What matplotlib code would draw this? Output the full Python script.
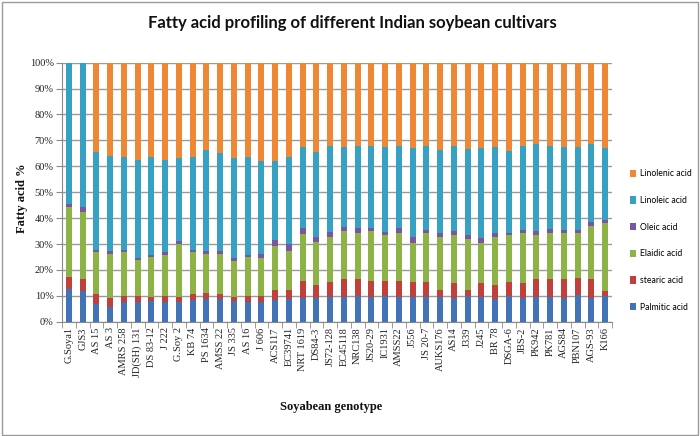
import matplotlib
matplotlib.use("Agg")
import matplotlib.pyplot as plt
from matplotlib.patches import Patch, Rectangle
from matplotlib.ticker import FixedLocator, PercentFormatter
from matplotlib import font_manager
import numpy as np

genotypes = ["G.Soya1", "GJS3", "AS 15", "AS 3", "AMRS 258", "JD(SH) 131", "DS 83-12", "J 222",
             "G.Soy 2", "KB 74", "PS 1634", "AMSS 22", "JS 335", "AS 16", "J 606", "ACS117",
             "EC39741", "NRT 1619", "DS84-3", "JS72-128", "EC45118", "NRC138", "JS20-29", "IC1931",
             "AMSS22", "J556", "JS 20-7", "AUKS176", "AS14", "J339", "J245", "BR 78",
             "DSGA-6", "JBS-2", "PK942", "PK781", "AGS84", "PBN107", "AGS-93", "K166"]

palmitic = [12.8, 11.9, 7.0, 5.8, 7.6, 7.6, 8.0, 7.6, 7.6, 8.5, 8.6, 8.6, 8.0, 7.6, 7.6, 8.4,
            8.6, 9.3, 9.0, 9.4, 9.4, 9.9, 9.7, 9.9, 9.4, 9.4, 9.4, 9.4, 9.0, 9.9, 9.4, 8.9,
            9.9, 9.0, 9.4, 9.4, 9.0, 10.3, 9.0, 9.9]
stearic = [4.6, 4.5, 3.6, 3.2, 2.5, 2.5, 1.5, 2.5, 1.9, 2.1, 2.6, 2.0, 1.5, 2.5, 2.5, 3.9,
           3.7, 6.4, 5.2, 5.8, 6.9, 6.4, 6.1, 5.9, 6.4, 5.8, 5.8, 2.8, 5.8, 2.3, 5.4, 5.3,
           5.3, 5.8, 6.9, 6.9, 7.3, 6.4, 7.3, 2.1]
elaidic = [27.0, 25.8, 16.2, 17.2, 16.7, 13.8, 15.3, 15.7, 20.4, 16.2, 14.9, 15.7, 14.0, 14.7, 14.4, 17.0,
           15.1, 18.1, 16.7, 17.6, 18.7, 18.1, 19.2, 17.5, 18.3, 15.0, 19.2, 20.6, 18.5, 19.6, 15.4, 18.6,
           18.1, 19.3, 17.0, 18.1, 18.1, 17.7, 20.8, 26.2]
oleic = [1.0, 2.2, 0.9, 1.0, 0.8, 0.6, 1.0, 1.3, 1.1, 0.9, 1.1, 0.9, 1.0, 1.0, 1.7, 2.1,
         2.5, 2.3, 1.9, 1.8, 1.6, 1.6, 1.0, 1.4, 1.9, 2.6, 1.0, 1.6, 1.8, 1.5, 2.0, 1.6,
         1.1, 1.3, 1.7, 1.3, 1.0, 1.0, 1.5, 1.1]
linoleic = [54.6, 55.6, 38.0, 36.9, 35.9, 38.1, 37.7, 35.5, 32.1, 35.8, 39.1, 38.0, 38.6, 37.8, 35.7, 30.7,
            33.7, 31.3, 32.6, 33.4, 31.0, 32.0, 32.0, 32.9, 32.0, 34.4, 32.6, 31.9, 32.9, 33.5, 34.9, 33.2,
            31.6, 32.6, 33.5, 32.3, 32.2, 31.9, 29.9, 27.7]
linolenic = [0.0, 0.0, 34.3, 35.9, 36.5, 37.4, 36.5, 37.4, 36.9, 36.5, 33.7, 34.8, 36.9, 36.4, 38.1, 37.9,
             36.4, 32.6, 34.6, 32.0, 32.4, 32.0, 32.0, 32.4, 32.0, 32.8, 32.0, 33.7, 32.0, 33.2, 32.9, 32.4,
             34.0, 32.0, 31.5, 32.0, 32.4, 32.7, 31.5, 33.0]

series_names = ["Palmitic acid", "stearic acid", "Elaidic acid", "Oleic acid", "Linoleic acid", "Linolenic acid"]
series_colors = ["#4273B6", "#C0403B", "#8DB346", "#7A55A4", "#36A1C3", "#EE8834"]

fig = plt.figure(figsize=(7.0, 4.36), dpi=100)
ax = fig.add_axes([62/700, 1-321.7/436, 550/700, (321.7-62.7)/436])

data = np.array([palmitic, stearic, elaidic, oleic, linoleic, linolenic], dtype=float)
totals = data.sum(axis=0)
pct = data / totals * 100.0
x = np.arange(len(genotypes))
bottom = np.zeros(len(genotypes))
for vals, name, col in zip(pct, series_names, series_colors):
    ax.bar(x, vals, 0.42, bottom=bottom, color=col, label=name, zorder=3)
    bottom += vals

ax.set_xlim(-0.5, len(genotypes) - 0.5)
ax.set_ylim(0, 100)
ax.set_yticks(np.arange(0, 101, 10))
ax.yaxis.set_major_formatter(PercentFormatter(decimals=0))
ax.grid(axis="y", color="#9a9a9a", linewidth=1.0, zorder=0)
ax.set_xticks(x)
ax.set_xticklabels(genotypes, rotation=90, fontsize=7.5, family="Liberation Serif", color="#222222")
ax.xaxis.set_minor_locator(FixedLocator(np.arange(-0.5, len(genotypes), 1.0)))
ax.tick_params(axis="x", which="major", length=0, pad=4)
ax.tick_params(axis="x", which="minor", length=4, color="#8a8a8a", direction="out")
ax.tick_params(axis="y", length=4, color="#8a8a8a", labelsize=7.5, pad=2, labelcolor="#222222")
for lbl in ax.get_yticklabels():
    lbl.set_family("Liberation Serif")
for s in ["top", "right"]:
    ax.spines[s].set_visible(False)
ax.spines["left"].set_color("#8a8a8a")
ax.spines["bottom"].set_color("#8a8a8a")

fig.text(352/700, 1-23/436, "Fatty acid profiling of different Indian soybean cultivars",
         ha="center", va="center", fontsize=12, fontweight="bold", family="Lato", color="#111111")
fig.text(22/700, 1-198/436, "Fatty acid %", rotation=90, ha="center", va="center",
         fontsize=9, fontweight="bold", family="Liberation Serif", color="#111111")
fig.text(331/700, 1-407/436, "Soyabean genotype", ha="center", va="center",
         fontsize=9, fontweight="bold", family="Liberation Serif", color="#111111")

handles = [Patch(facecolor=c, label=n) for n, c in zip(series_names, series_colors)][::-1]
fig.legend(handles=handles, loc="center left", bbox_to_anchor=(626/700, 1-240.5/436),
           frameon=False, prop={"family": "Lato", "size": 6.2},
           handlelength=0.7, handleheight=0.9, handletextpad=0.4, labelspacing=2.05, borderpad=0)

fig.patches.append(Rectangle((2/700, 1/436), 696/700, 433/436, transform=fig.transFigure,
                             fill=False, edgecolor="#9a9a9a", linewidth=1.0))

fig.savefig("out.png", dpi=100)
